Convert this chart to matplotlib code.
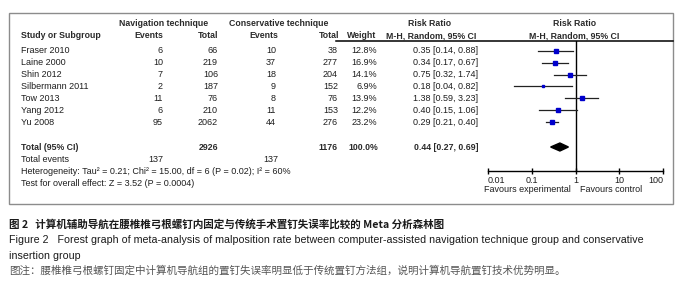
import matplotlib
matplotlib.use('Agg')
import matplotlib.pyplot as plt
from matplotlib.patches import Rectangle

# data
studies = ['Fraser 2010', 'Laine 2000', 'Shin 2012', 'Silbermann 2011', 'Tow 2013', 'Yang 2012', 'Yu 2008']
nav_events = [6, 10, 7, 2, 11, 6, 95]
nav_total = [66, 219, 106, 187, 76, 210, 2062]
con_events = [10, 37, 18, 9, 8, 11, 44]
con_total = [38, 277, 204, 152, 76, 153, 276]
weights = [12.8, 16.9, 14.1, 6.9, 13.9, 12.2, 23.2]
rr = [0.35, 0.34, 0.75, 0.18, 1.38, 0.40, 0.29]
ci_lo = [0.14, 0.17, 0.32, 0.04, 0.59, 0.15, 0.21]
ci_hi = [0.88, 0.67, 1.74, 0.82, 3.23, 1.06, 0.40]

total_nav, total_con = 2926, 1176
events_nav, events_con = 137, 137
pooled_rr, pooled_lo, pooled_hi = 0.44, 0.27, 0.69

ticks = [0.01, 0.1, 1, 10, 100]
tick_labels = ['0.01', '0.1', '1', '10', '100']

heterogeneity = 'Heterogeneity: Tau\u00b2 = 0.21; Chi\u00b2 = 15.00, df = 6 (P = 0.02); I\u00b2 = 60%'
overall = 'Test for overall effect: Z = 3.52 (P = 0.0004)'

cap_cn = '图 2   计算机辅助导航在腰椎椎弓根螺钉内固定与传统手术置钉失误率比较的 Meta 分析森林图'
cap_en1 = 'Figure 2   Forest graph of meta-analysis of malposition rate between computer-assisted navigation technique group and conservative'
cap_en2 = 'insertion group'
cap_note = '图注：腰椎椎弓根螺钉固定中计算机导航组的置钉失误率明显低于传统置钉方法组，说明计算机导航置钉技术优势明显。'

plt.rcParams['font.family'] = ['Liberation Sans', 'DejaVu Sans']
fs = 6.5
hfs = 6.3
tc = '#1e1e1e'
cjk = ['Noto Sans CJK SC', 'DejaVu Sans']

fig = plt.figure(figsize=(6.9, 2.94), dpi=100)
bg = fig.add_axes([0, 0, 1, 1])
bg.set_xlim(0, 690)
bg.set_ylim(294, 0)
bg.axis('off')

bg.add_patch(Rectangle((9, 13), 664, 191, fill=False, ec='#8c8c8c', lw=1))
bg.plot([336, 673], [41, 41], color='black', lw=1.1)

# headers
hb = dict(fontsize=hfs, fontweight='bold', color='#2a2a2a', va='center')
bg.text(164, 24, 'Navigation technique', ha='center', **hb)
bg.text(279, 24, 'Conservative technique', ha='center', **hb)
bg.text(430, 24, 'Risk Ratio', ha='center', **hb)
bg.text(575, 24, 'Risk Ratio', ha='center', **hb)
bg.text(21, 36, 'Study or Subgroup', ha='left', **hb)
bg.text(163, 36, 'Events', ha='right', **hb)
bg.text(218, 36, 'Total', ha='right', **hb)
bg.text(278, 36, 'Events', ha='right', **hb)
bg.text(339, 36, 'Total', ha='right', **hb)
bg.text(376, 36, 'Weight', ha='right', **hb)
bg.text(431, 36, 'M-H, Random, 95% CI', ha='center', **hb)
bg.text(574, 36, 'M-H, Random, 95% CI', ha='center', **hb)

row_y = [50.7 + 11.93 * i for i in range(len(studies))]
tr = dict(fontsize=fs, color=tc, va='center')
for i, name in enumerate(studies):
    y = row_y[i]
    bg.text(21, y, name, ha='left', **tr)
    bg.text(163, y, str(nav_events[i]), ha='right', **tr)
    bg.text(218, y, str(nav_total[i]), ha='right', **tr)
    bg.text(276, y, str(con_events[i]), ha='right', **tr)
    bg.text(338, y, str(con_total[i]), ha='right', **tr)
    bg.text(377, y, '%.1f%%' % weights[i], ha='right', **tr)
    bg.text(478, y, '%.2f [%.2f, %.2f]' % (rr[i], ci_lo[i], ci_hi[i]), ha='right', **tr)

ty = 147
tb = dict(fontsize=hfs, fontweight='bold', color='#2a2a2a', va='center')
bg.text(21, ty, 'Total (95% CI)', ha='left', **tb)
bg.text(218, ty, str(total_nav), ha='right', **tb)
bg.text(338, ty, str(total_con), ha='right', **tb)
bg.text(378, ty, '100.0%', ha='right', **tb)
bg.text(478, ty, '%.2f [%.2f, %.2f]' % (pooled_rr, pooled_lo, pooled_hi), ha='right', **tb)

bg.text(21, 160, 'Total events', ha='left', **tr)
bg.text(163, 160, str(events_nav), ha='right', **tr)
bg.text(278, 160, str(events_con), ha='right', **tr)
bg.text(21, 172, heterogeneity, ha='left', **tr)
bg.text(21, 183, overall, ha='left', **tr)

bg.text(571, 190, 'Favours experimental', ha='right', **tr)
bg.text(580, 190, 'Favours control', ha='left', **tr)

# forest panel
fa = fig.add_axes([488 / 690, 1 - 171 / 294, 175 / 690, 130 / 294])
fa.set_xscale('log')
fa.set_xlim(0.01, 100)
fa.set_ylim(171, 41)
fa.patch.set_alpha(0)
for s in ['top', 'left', 'right']:
    fa.spines[s].set_visible(False)
fa.spines['bottom'].set_linewidth(1.0)
fa.set_yticks([])
fa.set_xticks(ticks)
fa.set_xticklabels(tick_labels)
fa.minorticks_off()
fa.tick_params(axis='x', direction='inout', length=5, width=1.0, pad=0.8, labelsize=fs, labelcolor=tc)
labs = fa.get_xticklabels()
labs[0].set_ha('left')
labs[-1].set_ha('right')

fa.axvline(1, color='black', lw=1.0)
for i in range(len(studies)):
    y = row_y[i]
    fa.plot([ci_lo[i], ci_hi[i]], [y, y], color='#222222', lw=0.9)
    fa.plot(rr[i], y, 's', color='#0000cc', ms=0.62 * weights[i] ** 0.5, mec='#0000cc')

fa.fill([pooled_lo, pooled_rr, pooled_hi, pooled_rr], [ty, ty - 4, ty, ty + 4], color='black')

# captions
bg.text(9, 224, cap_cn, ha='left', va='center', fontsize=7.6, family=cjk, fontweight='bold', color='#1a1a1a')
bg.text(9, 240, cap_en1, ha='left', va='center', fontsize=7.7, color='#1a1a1a')
bg.text(9, 256, cap_en2, ha='left', va='center', fontsize=7.7, color='#1a1a1a')
bg.text(9, 271, cap_note, ha='left', va='center', fontsize=7.6, family=cjk, color='#555555')

fig.savefig('out.png', dpi=100)
